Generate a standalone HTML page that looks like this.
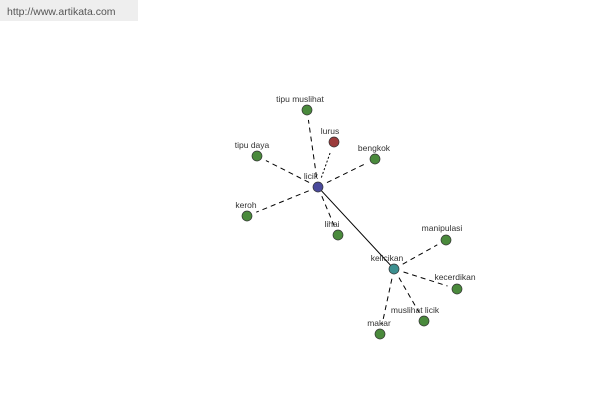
<!DOCTYPE html>
<html><head><meta charset="utf-8"><style>
html,body{margin:0;padding:0;background:#fff;width:600px;height:400px;overflow:hidden}
text{font-family:"Liberation Sans",sans-serif;font-size:8.5px;fill:#333}
</style></head><body>
<svg id="s" width="600" height="400" xmlns="http://www.w3.org/2000/svg">
<rect x="0" y="0" width="138" height="21" fill="#eeeeee"/>
<text x="7" y="15" style="font-size:10.5px;fill:#555">http://www.artikata.com</text>
<g id="lines"></g>
<g stroke="#333" stroke-width="0.7">
<circle cx="307" cy="110" r="5" fill="#4a8a3c"/>
<circle cx="334" cy="142" r="5" fill="#9c3c3c"/>
<circle cx="257" cy="156" r="5" fill="#4a8a3c"/>
<circle cx="375" cy="159" r="5" fill="#4a8a3c"/>
<circle cx="247" cy="216" r="5" fill="#4a8a3c"/>
<circle cx="338" cy="235" r="5" fill="#4a8a3c"/>
<circle cx="318" cy="187" r="5" fill="#4a4a9c"/>
<circle cx="394" cy="269" r="5" fill="#3c9090"/>
<circle cx="446" cy="240" r="5" fill="#4a8a3c"/>
<circle cx="457" cy="289" r="5" fill="#4a8a3c"/>
<circle cx="424" cy="321" r="5" fill="#4a8a3c"/>
<circle cx="380" cy="334" r="5" fill="#4a8a3c"/>
</g>
<g text-anchor="middle">
<text x="300" y="102">tipu muslihat</text>
<text x="330" y="134">lurus</text>
<text x="252" y="148">tipu daya</text>
<text x="374" y="151">bengkok</text>
<text x="246" y="208">keroh</text>
<text x="332" y="227">lihai</text>
<text x="311" y="179">licik</text>
<text x="387" y="261">kelicikan</text>
<text x="442" y="231">manipulasi</text>
<text x="455" y="280">kecerdikan</text>
<text x="415" y="313">muslihat licik</text>
<text x="379" y="326">makar</text>
</g>
</svg>
<script>
var g=document.getElementById('lines');
var L=[[318,187,307,110,'5,4'],[318,187,334,142,'2,2'],[318,187,257,156,'5,4'],[318,187,375,159,'5,4'],[318,187,247,216,'5,4'],[318,187,338,235,'5,4'],
[394,269,446,240,'5,4'],[394,269,457,289,'5,4'],[394,269,424,321,'5,4'],[394,269,380,334,'5,4'],[318,187,394,269,'']];
L.forEach(function(l){var dx=l[2]-l[0],dy=l[3]-l[1],d=Math.hypot(dx,dy),a=l[4]?10:5,b=l[4]?10:5;
var e=document.createElementNS('http://www.w3.org/2000/svg','line');
e.setAttribute('x1',l[0]+dx*a/d);e.setAttribute('y1',l[1]+dy*a/d);
e.setAttribute('x2',l[2]-dx*b/d);e.setAttribute('y2',l[3]-dy*b/d);
e.setAttribute('stroke','#000');e.setAttribute('stroke-width','1');
if(l[4])e.setAttribute('stroke-dasharray',l[4]);g.appendChild(e);});
</script>
</body></html>
